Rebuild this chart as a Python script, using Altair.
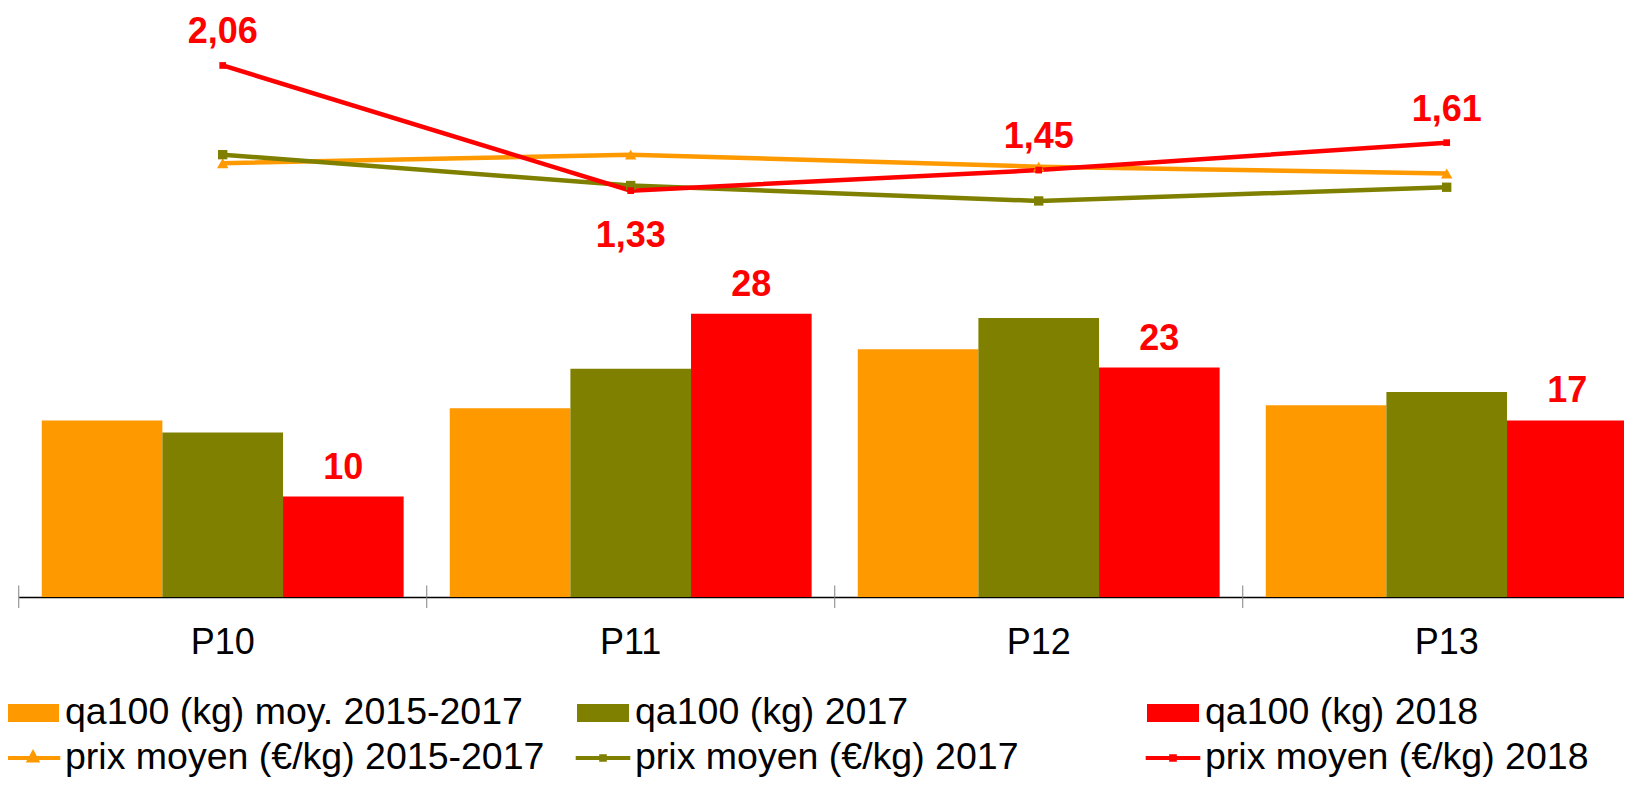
import altair as alt
import pandas as pd

# ---------------- data ----------------
periods = ["P10", "P11", "P12", "P13"]
bar_series = ["qa100 (kg) moy. 2015-2017", "qa100 (kg) 2017", "qa100 (kg) 2018"]
line_series = ["prix moyen (€/kg) 2015-2017", "prix moyen (€/kg) 2017", "prix moyen (€/kg) 2018"]

qa_moy = [17.4, 18.6, 24.4, 18.9]
qa_2017 = [16.2, 22.5, 27.5, 20.2]
qa_2018 = [9.9, 27.9, 22.6, 17.4]

prix_moy = [1.49, 1.54, 1.47, 1.43]
prix_2017 = [1.54, 1.36, 1.27, 1.35]
prix_2018 = [2.06, 1.33, 1.45, 1.61]
prix_2018_label_below = [False, True, False, False]

colors = ["#FF9900", "#808000", "#FF0000"]

# ---------------- tables ----------------
bars_rows = []
for s, vals in zip(bar_series, [qa_moy, qa_2017, qa_2018]):
    for p, v in zip(periods, vals):
        bars_rows.append({"period": p, "series": s, "value": v})
bars_df = pd.DataFrame(bars_rows)

line_rows = []
for s, vals in zip(line_series, [prix_moy, prix_2017, prix_2018]):
    for i, (p, v) in enumerate(zip(periods, vals)):
        below = prix_2018_label_below[i] if s == line_series[2] else False
        line_rows.append({"period": p, "series": s, "price": v, "below": below})
lines_df = pd.DataFrame(line_rows)
ticks_df = pd.DataFrame({"period": periods})

FONT = "Liberation Sans"

x_scale = alt.Scale(domain=periods, range=[10.7, 1642.7], paddingInner=0.113, paddingOuter=0.0565)
x_axis = alt.Axis(title=None, labelFont=FONT, labelFontSize=36, labelColor="black",
                  labelPadding=28, labelAngle=0, ticks=False,
                  domainColor="black", domainWidth=1.3, grid=False)
X = alt.X("period:N", scale=x_scale, axis=x_axis, sort=periods)

xoff = alt.XOffset("series:N", scale=alt.Scale(domain=bar_series, paddingInner=0, paddingOuter=0))
y_bar = alt.Y("value:Q", scale=alt.Scale(domain=[0, 58.03]), axis=None)
y_line = alt.Y("price:Q", scale=alt.Scale(domain=[-1.039, 2.395]), axis=None)

color_scale = alt.Scale(domain=bar_series + line_series, range=colors + colors)

P_BAR = "M-1,-0.27H1M-1,-0.135H1M-1,0H1M-1,0.135H1M-1,0.27H1"
P_TRI = "M-1.05,0H1.05M-0.15,0.1L0,-0.18L0.15,0.1Z"
P_SQ = "M-1.05,0H1.05M-0.07,-0.07H0.07V0.07H-0.07Z"
shape_expr = (f"indexof(datum.value, 'qa100') == 0 ? '{P_BAR}' : "
              f"(datum.value == '{line_series[0]}' ? '{P_TRI}' : '{P_SQ}')")

legend = alt.Legend(title=None, orient="none", legendX=-3, legendY=685, columns=3,
                    direction="horizontal", gridAlign="all", columnPadding=30,
                    rowPadding=5, clipHeight=40,
                    labelFont=FONT, labelFontSize=37.5, labelColor="black", labelLimit=1000,
                    labelOffset=4, symbolSize=2704, symbolStrokeWidth=4,
                    symbolType={"expr": shape_expr}, symbolOpacity=1)

COLOR = alt.Color("series:N", scale=color_scale, legend=legend)

bars = alt.Chart(bars_df).mark_bar().encode(
    x=X, xOffset=xoff, y=y_bar, color=COLOR,
)

# category separator ticks crossing the axis line
ticks = alt.Chart(ticks_df).mark_rule(color="#808080", strokeWidth=1, xOffset=-23).encode(
    x=alt.X("period:N", scale=x_scale, axis=x_axis, sort=periods, bandPosition=0),
    y=alt.value(577.5), y2=alt.value(600),
)

bar_labels = alt.Chart(bars_df).transform_filter(
    alt.datum.series == bar_series[2]
).mark_text(font=FONT, fontSize=36, fontWeight="bold", color="#FF0000",
            baseline="alphabetic", dy=-18).encode(
    x=X, xOffset=xoff, y=y_bar, text=alt.Text("value:Q", format=".0f")
)

lines = alt.Chart(lines_df).mark_line(strokeWidth=4.5).encode(
    x=X, y=y_line, color=COLOR,
)

points = alt.Chart(lines_df).mark_point(filled=True, opacity=1).encode(
    x=X, y=y_line, color=COLOR,
    shape=alt.Shape("series:N", scale=alt.Scale(domain=line_series,
                    range=["triangle-up", "square", "square"]), legend=None),
    size=alt.Size("series:N", scale=alt.Scale(domain=line_series, range=[130, 45, 45]), legend=None),
)

lab_base = alt.Chart(lines_df).transform_filter(
    alt.datum.series == line_series[2]
).transform_calculate(lbl="replace(format(datum.price, '.2f'), '.', ',')")

lab_above = lab_base.transform_filter("!datum.below").mark_text(
    font=FONT, fontSize=36, fontWeight="bold", color="#FF0000",
    baseline="alphabetic", dy=-22).encode(x=X, y=y_line, text="lbl:N")

lab_below = lab_base.transform_filter("datum.below").mark_text(
    font=FONT, fontSize=36, fontWeight="bold", color="#FF0000",
    baseline="alphabetic", dy=56).encode(x=X, y=y_line, text="lbl:N")

chart = alt.layer(bars, ticks, bar_labels, lines, points, lab_above, lab_below).resolve_scale(
    y="independent"
).properties(
    width=1616, height=589,
    autosize=alt.AutoSizeParams(type="none"),
    padding={"left": 0, "top": 0, "right": 0, "bottom": 181},
).configure_view(stroke=None)

chart.save("out.html", embed_options={"renderer": "svg", "actions": False})
